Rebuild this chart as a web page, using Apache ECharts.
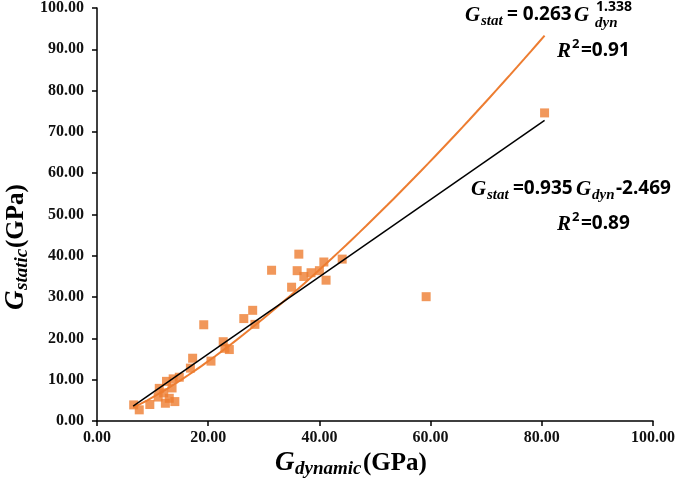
<!DOCTYPE html>
<html>
<head>
<meta charset="utf-8">
<script src="https://cdn.jsdelivr.net/npm/echarts@6/dist/echarts.min.js"></script>
<style>
html,body{margin:0;padding:0;background:#fff;}
#chart{width:685px;height:495px;}
</style>
</head>
<body>
<div id="chart"></div>
<script>
// Measured data: [G_dynamic, G_static] in GPa
const gDynamic = [6.6, 7.6, 9.5, 11.0, 11.2, 12.0, 12.3, 12.5, 13.0, 13.5, 13.7, 14.0, 14.8, 16.8, 17.2, 19.2, 20.5, 22.7, 23.0, 23.8, 26.4, 28.0, 28.4, 31.4, 35.0, 36.0, 36.3, 37.2, 38.5, 40.0, 40.8, 41.2, 44.1, 59.2, 80.5];
const gStatic  = [3.9, 2.7, 4.0, 5.8, 7.9, 6.8, 4.3, 9.6, 5.5, 8.0, 10.2, 4.7, 10.6, 12.8, 15.2, 23.3, 14.5, 19.2, 17.6, 17.3, 24.8, 26.8, 23.4, 36.5, 32.4, 36.4, 40.4, 35.0, 35.9, 36.4, 38.5, 34.1, 39.2, 30.1, 74.6];
// Trendline coefficients shown on the chart
const linearFit = [0.935, -2.469];   // slope, intercept
const powerFit = [0.263, 1.338];     // coefficient, exponent
const fitRange = [6.5, 80.5];
const xTicks = [0, 20, 40, 60, 80, 100];
const yTicks = [0, 10, 20, 30, 40, 50, 60, 70, 80, 90, 100];

const points = gDynamic.map((x, i) => [x, gStatic[i]]);
const linLine = fitRange.map(x => [x, linearFit[0] * x + linearFit[1]]);
const powLine = [];
for (let k = 0; k <= 60; k++) {
  const x = fitRange[0] + (fitRange[1] - fitRange[0]) * k / 60;
  powLine.push([x, powerFit[0] * Math.pow(x, powerFit[1])]);
}

const SERIF = '"Liberation Serif", "DejaVu Serif", serif';
const SANS = '"Noto Sans", "Open Sans", sans-serif';
const t = (text, x, y, font, extra) => Object.assign({
  type: 'text', x: x, y: y,
  style: Object.assign({ text: text, font: font, fill: '#000', textVerticalAlign: 'top' }, extra || {})
});

const chart = echarts.init(document.getElementById('chart'), null, { renderer: 'canvas' });
chart.setOption({
  animation: false,
  backgroundColor: '#fff',
  grid: { left: 97, right: 32, top: 8, bottom: 74, containLabel: false },
  xAxis: {
    type: 'value', min: xTicks[0], max: xTicks[xTicks.length - 1], interval: 20,
    axisLine: { lineStyle: { color: '#000', width: 1.5 } },
    axisTick: { show: true, length: 5, lineStyle: { color: '#000', width: 1.5 } },
    splitLine: { show: false },
    axisLabel: { formatter: v => v.toFixed(2), fontFamily: SERIF, fontWeight: 'bold', fontSize: 16, color: '#111', margin: 9 }
  },
  yAxis: {
    type: 'value', min: yTicks[0], max: yTicks[yTicks.length - 1], interval: 10,
    axisLine: { show: true, lineStyle: { color: '#000', width: 1.5 } },
    axisTick: { show: true, length: 5, lineStyle: { color: '#000', width: 1.5 } },
    splitLine: { show: false },
    axisLabel: { formatter: v => v.toFixed(2), fontFamily: SERIF, fontWeight: 'bold', fontSize: 16, color: '#111', margin: 13 }
  },
  series: [
    { type: 'scatter', data: points, symbol: 'rect', symbolSize: 9, itemStyle: { color: '#ED7D31' }, z: 2 },
    { type: 'line', data: powLine, showSymbol: false, smooth: false, lineStyle: { color: '#ED7D31', width: 2 }, z: 3 },
    { type: 'line', data: linLine, showSymbol: false, lineStyle: { color: '#000', width: 1.5 }, z: 4 }
  ],
  graphic: [
    // y-axis title (rotated)
    { type: 'group', x: 3, y: 310, rotation: Math.PI / 2, children: [
      t('G', 0, 0, 'italic bold 27px ' + SERIF),
      t('static', 20, 10, 'italic bold 19px ' + SERIF),
      t('(GPa)', 62, 1, 'bold 25px ' + SERIF)
    ]},
    // x-axis title
    { type: 'group', x: 275, y: 450, children: [
      t('G', 0, 0, 'italic bold 27px ' + SERIF),
      t('dynamic', 20, 10, 'italic bold 19px ' + SERIF),
      t('(GPa)', 88, 1, 'bold 25px ' + SERIF)
    ]},
    // power fit equation
    { type: 'group', x: 465, y: 5, children: [
      t('G', 0, 0, 'italic bold 21px ' + SERIF),
      t('stat', 16, 9, 'italic bold 15px ' + SERIF),
      t('= 0.263', 42, 0, 'bold 19px ' + SANS),
      t('G', 109, 0, 'italic bold 21px ' + SERIF),
      t('1.338', 131, -5, 'bold 14px ' + SANS),
      t('dyn', 130, 11, 'italic bold 15px ' + SERIF)
    ]},
    { type: 'group', x: 557, y: 41, children: [
      t('R', 0, 0, 'italic bold 21px ' + SERIF),
      t('2', 15, -3, 'bold 13px ' + SANS),
      t('=0.91', 24, 0, 'bold 19px ' + SANS)
    ]},
    // linear fit equation
    { type: 'group', x: 471, y: 179, children: [
      t('G', 0, 0, 'italic bold 21px ' + SERIF),
      t('stat', 16, 9, 'italic bold 15px ' + SERIF),
      t('=0.935', 42, 0, 'bold 19px ' + SANS),
      t('G', 105, 0, 'italic bold 21px ' + SERIF),
      t('dyn', 121, 9, 'italic bold 15px ' + SERIF),
      t('-2.469', 145, 0, 'bold 19px ' + SANS)
    ]},
    { type: 'group', x: 557, y: 214, children: [
      t('R', 0, 0, 'italic bold 21px ' + SERIF),
      t('2', 15, -3, 'bold 13px ' + SANS),
      t('=0.89', 24, 0, 'bold 19px ' + SANS)
    ]}
  ]
});
</script>
</body>
</html>
